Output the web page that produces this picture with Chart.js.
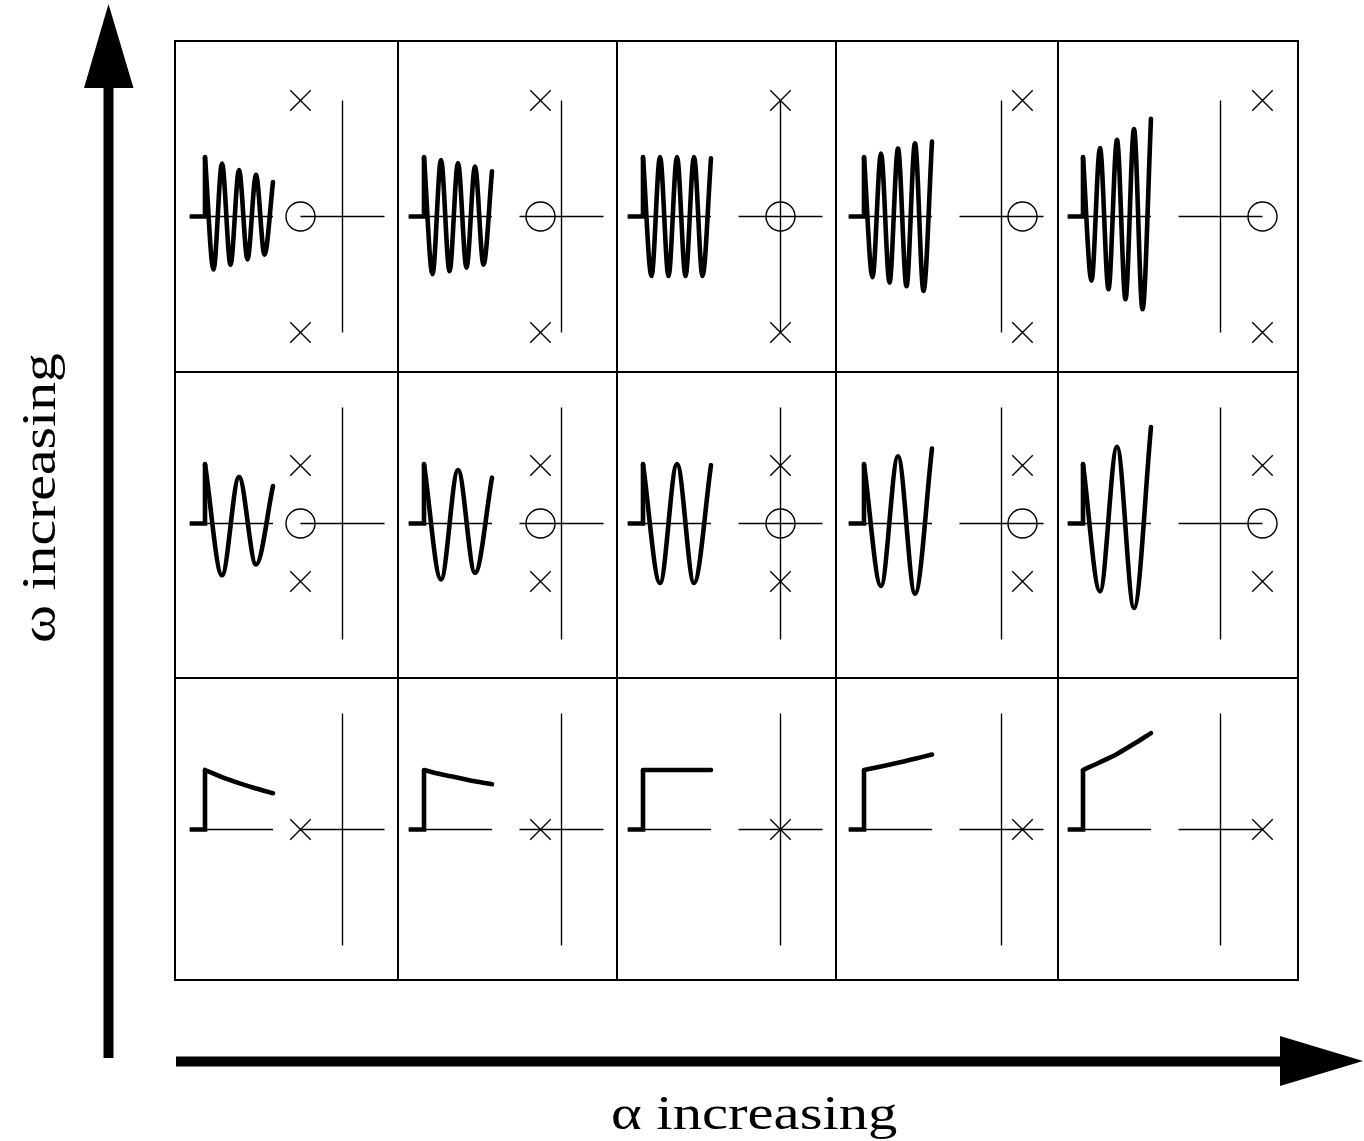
<!DOCTYPE html>
<html><head><meta charset="utf-8"><title>Pole positions and responses</title>
<script src="https://cdn.jsdelivr.net/npm/chart.js@4.4.1/dist/chart.umd.min.js"></script>
<style>
html,body{margin:0;padding:0;background:#fff;}
#stage{position:relative;width:1364px;height:1141px;overflow:hidden;background:#fff;}
.gl{position:absolute;background:#000;}
.lbl{position:absolute;font-family:"Liberation Serif","Times New Roman",serif;color:#000;white-space:nowrap;line-height:1;transform-origin:50% 50%;}
svg{position:absolute;left:0;top:0;}
canvas{position:absolute;display:block;}
</style></head><body>
<div id="stage">
<svg width="1364" height="1141" viewBox="0 0 1364 1141">
 <rect x="103.5" y="80" width="10" height="978" fill="#000"/>
 <polygon points="108.5,4 84,88 133.5,88" fill="#000"/>
 <rect x="176" y="1056.5" width="1108" height="10" fill="#000"/>
 <polygon points="1363,1061 1280,1036 1280,1086" fill="#000"/>
</svg>
<span class="lbl" id="alphaLbl" style="font-size:48px">α increasing</span>
<span class="lbl" id="omegaLbl" style="font-size:48px">ω increasing</span>
</div>
<script>
// ================= DATA =================
const columns = ['α1', 'α2', 'α3', 'α4', 'α5'];      // α increasing →
const rowsOmega = ['ω high', 'ω medium', 'ω zero'];  // top row to bottom row
const poleSigma = [-2, -1, 0, 1, 2];   // real part of the poles (and zero) per column
const poleOmega = [2, 1, 0];           // |imaginary part| of the poles per row
const zeroPresent = [true, true, false];
const planeReach = 2;                  // s-plane axes drawn over ±2
const preStepTime = -0.9;              // response is 0 before the step at t = 0

// sample times of the read extremes / points of each response
const timesHigh = [0, 0.5, 1, 1.5, 2, 2.5, 3, 3.5, 4];
const timesMid  = [0, 1, 2, 3, 4];
const timesZero = [0, 1, 2, 3, 4];

// top row (high ω)
const respHigh_a1 = [1.00, -0.89, 0.89, -0.81, 0.78, -0.72, 0.70, -0.64, 0.58];
const respHigh_a2 = [1.00, -0.97, 0.95, -0.92, 0.90, -0.86, 0.84, -0.81, 0.76];
const respHigh_a3 = [1.00, -1.00, 1.00, -1.00, 1.00, -1.00, 1.00, -1.00, 0.98];
const respHigh_a4 = [1.00, -1.02, 1.06, -1.11, 1.14, -1.17, 1.23, -1.25, 1.26];
const respHigh_a5 = [1.00, -1.08, 1.15, -1.22, 1.29, -1.39, 1.47, -1.56, 1.64];
// middle row (medium ω)
const respMid_a1 = [1.00, -0.87, 0.78, -0.69, 0.63];
const respMid_a2 = [1.00, -0.94, 0.90, -0.83, 0.77];
const respMid_a3 = [1.00, -1.00, 1.00, -1.00, 0.98];
const respMid_a4 = [1.00, -1.05, 1.13, -1.18, 1.26];
const respMid_a5 = [1.00, -1.14, 1.29, -1.42, 1.62];
// bottom row (ω = 0)
const respZero_a1 = [1.00, 0.88, 0.78, 0.69, 0.61];
const respZero_a2 = [1.00, 0.93, 0.87, 0.81, 0.76];
const respZero_a3 = [1.00, 1.00, 1.00, 1.00, 1.00];
const respZero_a4 = [1.00, 1.06, 1.12, 1.19, 1.26];
const respZero_a5 = [1.00, 1.13, 1.27, 1.44, 1.62];

const sampleTimes = [timesHigh, timesMid, timesZero];
const responses = [
  [respHigh_a1, respHigh_a2, respHigh_a3, respHigh_a4, respHigh_a5],
  [respMid_a1, respMid_a2, respMid_a3, respMid_a4, respMid_a5],
  [respZero_a1, respZero_a2, respZero_a3, respZero_a4, respZero_a5]
];

// ================= LAYOUT =================
const colLines = [175, 398, 617, 836, 1058, 1298];
const rowLines = [41, 372, 678, 980];
const imagAxisX = [342.5, 561.5, 780.5, 1001.5, 1220.5];
const realAxisY = [216.5, 523.5, 829.5];
const stepOffset = 137.5;   // px from step (t=0) to the imaginary axis
const pxPerSigma = 21, pxPerOmega = 58, pxPerTime = 17, pxPerAmp = 59.5;
const thin = 1.4, thick = 4.6;

const stage = document.getElementById('stage');

// grid lines
colLines.forEach(x => {
  const d = document.createElement('div'); d.className = 'gl';
  d.style.cssText = `left:${x-1}px;top:${rowLines[0]-1}px;width:2px;height:${rowLines[3]-rowLines[0]+2}px`;
  stage.appendChild(d);
});
rowLines.forEach(y => {
  const d = document.createElement('div'); d.className = 'gl';
  d.style.cssText = `left:${colLines[0]-1}px;top:${y-1}px;width:${colLines[5]-colLines[0]+2}px;height:2px`;
  stage.appendChild(d);
});

function lineDs(data, width, xa, ya, extra) {
  return Object.assign({
    data, borderColor: '#000', borderWidth: width, pointRadius: 0,
    xAxisID: xa, yAxisID: ya, fill: false, tension: 0
  }, extra || {});
}

function makeCell(r, c) {
  const L = colLines[c] + 1, R = colLines[c + 1] - 1, T = rowLines[r] + 1, B = rowLines[r + 1] - 1;
  const W = R - L, H = B - T;
  const cv = document.createElement('canvas');
  cv.width = W; cv.height = H;
  cv.style.left = L + 'px'; cv.style.top = T + 'px';
  cv.style.width = W + 'px'; cv.style.height = H + 'px';
  stage.appendChild(cv);

  const ax = imagAxisX[c], by = realAxisY[r], t0x = ax - stepOffset;
  const times = sampleTimes[r], vals = responses[r][c];
  const wave = times.map((t, i) => ({ x: t, y: vals[i] }));
  const sig = poleSigma[c], om = poleOmega[r];

  const datasets = [];
  // time axis (thin)
  datasets.push(lineDs([{ x: preStepTime, y: 0 }, { x: times[times.length - 1], y: 0 }], thin, 'xt', 'ya'));
  // zero before the step, then the step itself
  datasets.push(lineDs([{ x: preStepTime, y: 0 }, { x: 0, y: 0 }, { x: 0, y: vals[0] }], thick, 'xt', 'ya',
    { borderJoinStyle: 'miter' }));
  // response after the step
  datasets.push(lineDs(wave, thick, 'xt', 'ya', { cubicInterpolationMode: 'monotone', borderCapStyle: 'round', borderJoinStyle: 'round' }));
  // s-plane axes
  datasets.push(lineDs([{ x: 0, y: -planeReach }, { x: 0, y: planeReach }], thin, 'xs', 'yw'));
  datasets.push(lineDs([{ x: -planeReach, y: 0 }, { x: planeReach, y: 0 }], thin, 'xs', 'yw'));
  // poles
  const poles = om > 0 ? [{ x: sig, y: om }, { x: sig, y: -om }] : [{ x: sig, y: 0 }];
  datasets.push({
    data: poles, showLine: false, xAxisID: 'xs', yAxisID: 'yw',
    pointStyle: 'crossRot', pointRadius: 14.5, pointBorderWidth: thin,
    pointBorderColor: '#000', pointBackgroundColor: 'rgba(0,0,0,0)', borderColor: '#000'
  });
  // zero
  if (zeroPresent[r]) {
    datasets.push({
      data: [{ x: sig, y: 0 }], showLine: false, xAxisID: 'xs', yAxisID: 'yw',
      pointStyle: 'circle', pointRadius: 14.5, pointBorderWidth: thin,
      pointBorderColor: '#000', pointBackgroundColor: 'rgba(0,0,0,0)', borderColor: '#000'
    });
  }

  const hidden = { display: false, grid: { display: false }, ticks: { display: false } };
  new Chart(cv, {
    type: 'line',
    data: { datasets },
    options: {
      responsive: false, maintainAspectRatio: false, animation: false, devicePixelRatio: 1,
      events: [], layout: { padding: 0, autoPadding: false },
      plugins: { legend: { display: false }, tooltip: { enabled: false } },
      scales: {
        xt: Object.assign({ type: 'linear', axis: 'x', min: -(t0x - L) / pxPerTime, max: (R - t0x) / pxPerTime }, hidden),
        xs: Object.assign({ type: 'linear', axis: 'x', min: -(ax - L) / pxPerSigma, max: (R - ax) / pxPerSigma }, hidden),
        ya: Object.assign({ type: 'linear', axis: 'y', min: -(B - by) / pxPerAmp, max: (by - T) / pxPerAmp }, hidden),
        yw: Object.assign({ type: 'linear', axis: 'y', min: -(B - by) / pxPerOmega, max: (by - T) / pxPerOmega }, hidden)
      }
    }
  });
}

for (let r = 0; r < 3; r++) for (let c = 0; c < 5; c++) makeCell(r, c);

// axis captions, fitted to the reference lengths
function placeLabel(id, cx, cy, len, rotate) {
  const el = document.getElementById(id);
  const w = el.offsetWidth, h = el.offsetHeight;
  const s = len / w;
  el.style.left = (cx - w / 2) + 'px';
  el.style.top = (cy - h / 2) + 'px';
  el.style.transform = (rotate ? 'rotate(-90deg) ' : '') + 'scaleX(' + s + ')';
}
// baseline sits ~0.8375em below box top; box centre is 0.5em
placeLabel('alphaLbl', 754, 1129.5 - 48 * 0.3375, 286, false);
placeLabel('omegaLbl', 56 - 48 * 0.3375, 498, 290, true);
</script>
</body></html>
